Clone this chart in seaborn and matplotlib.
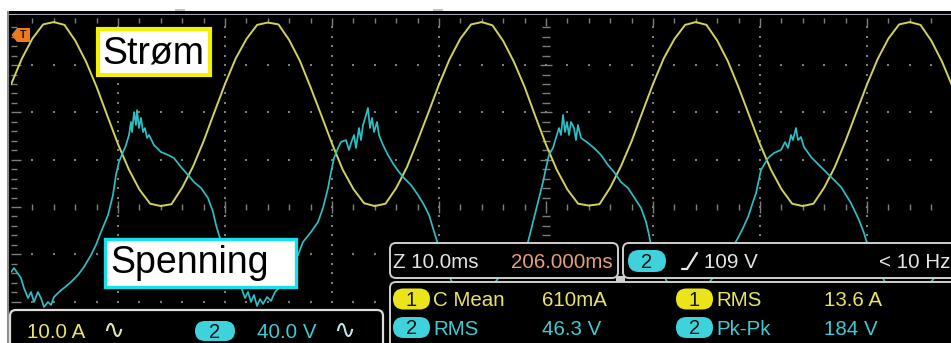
import numpy as np
import pandas as pd
import matplotlib
matplotlib.use("Agg")
import matplotlib.pyplot as plt
from matplotlib.patches import FancyBboxPatch, Rectangle, Polygon
from matplotlib.collections import LineCollection
import seaborn as sns

# ---- acquisition settings ----------------------------------------------------
MS_PER_DIV = 10.0          # horizontal scale
AMP_PER_DIV = 10.0         # channel 1 (current)
VOLT_PER_DIV = 40.0        # channel 2 (voltage)
CH1_POSITION_DIV = 1.91    # channel 1 ground, divisions above screen centre

# ---- channel 1: current (A), one sample per millisecond ------------------------
current_time_ms = np.arange(-50.0, 39.0, 1.0)
current_amp = [
    6.8, 12.2, 16.5, 19.5, 20.0, 19.4, 16.1, 11.7, 6.3, 0.2,
    -5.8, -11.1, -15.4, -18.4, -18.9, -18.5, -15.0, -10.6, -5.2, 0.9,
    6.9, 12.3, 16.4, 19.4, 19.9, 19.5, 16.2, 11.8, 6.2, 0.3,
    -5.7, -11.2, -15.3, -18.3, -18.9, -18.4, -15.1, -10.7, -5.1, 0.8,
    6.8, 12.2, 16.5, 19.5, 20.0, 19.3, 16.0, 11.6, 6.3, 0.1,
    -5.9, -11.2, -15.4, -18.4, -18.8, -18.5, -15.0, -10.5, -5.2, 0.9,
    6.9, 12.3, 16.4, 19.4, 20.0, 19.4, 16.1, 11.7, 6.2, 0.2,
    -5.8, -11.1, -15.3, -18.4, -18.9, -18.4, -15.0, -10.6, -5.1, 0.9,
    6.8, 12.2, 16.5, 19.5, 20.0, 19.4, 16.1, 11.7, 6.3,
]

# ---- channel 2: voltage (V) ------------------------------------------------------
voltage_time_ms = [
    -50.00, -49.72, -49.07, -48.79, -48.41, -48.13, -47.85, -47.48, -47.20, -46.92,
    -46.54, -46.26, -45.98, -45.51, -45.05, -44.39, -43.74, -43.18, -42.52, -42.06,
    -41.59, -40.93, -40.47, -40.19, -39.91, -39.53, -39.25, -38.97, -38.79, -38.69,
    -38.50, -38.32, -38.22, -38.04, -37.85, -37.66, -37.48, -37.29, -37.10, -36.64,
    -35.98, -35.33, -34.77, -34.11, -33.46, -32.90, -32.24, -31.59, -31.12, -30.84,
    -30.56, -29.91, -29.25, -28.50, -28.13, -27.85, -27.57, -27.29, -27.01, -26.73,
    -26.45, -26.07, -25.70, -25.33, -24.86, -24.30, -23.74, -23.18, -22.71, -21.96,
    -21.31, -20.84, -20.37, -20.09, -19.81, -19.44, -19.16, -18.69, -18.41, -18.22,
    -17.94, -17.76, -17.48, -17.29, -17.10, -16.82, -16.64, -16.45, -16.26, -16.07,
    -15.79, -15.61, -15.23, -14.77, -14.21, -13.74, -13.27, -12.62, -11.96, -11.40,
    -10.93, -10.56, -10.28, -9.63, -8.88, -8.13, -7.38, -6.64, -5.89, -4.95,
    -4.02, -3.08, -2.34, -1.68, -1.21, -0.75, -0.28, 0.00, 0.28, 0.65,
    0.93, 1.21, 1.40, 1.59, 1.78, 1.96, 2.15, 2.34, 2.62, 2.80,
    2.99, 3.27, 3.93, 4.49, 5.14, 5.79, 6.36, 7.01, 7.66, 8.22,
    8.88, 9.35, 9.63, 9.81, 10.56, 11.31, 12.15, 12.99, 13.93, 14.86,
    15.79, 16.73, 17.29, 17.94, 18.41, 18.88, 19.25, 19.63, 20.09, 20.75,
    21.31, 21.96, 22.34, 22.62, 22.90, 23.08, 23.36, 23.55, 23.83, 24.11,
    24.77, 25.70, 26.64, 27.57, 28.50, 29.25, 29.72, 29.91, 30.56, 31.31,
    32.24, 33.18, 34.11, 35.05, 35.98, 36.92, 37.94,
]
voltage_volt = [
    -55.0, -51.6, -60.0, -68.5, -77.0, -71.9, -80.3, -71.9, -77.0, -84.6,
    -80.3, -82.9, -76.1, -71.9, -68.5, -63.4, -57.5, -50.7, -40.6, -32.1,
    -21.1, -6.8, 10.1, 27.1, 38.1, 46.5, 52.4, 60.9, 71.9, 63.4,
    80.3, 69.3, 82.0, 66.8, 75.3, 63.4, 66.8, 58.4, 60.9, 52.4,
    46.5, 44.0, 41.4, 33.8, 27.1, 21.1, 16.1, 7.6, -4.2, -15.2,
    -23.7, -40.6, -55.0, -67.7, -77.0, -71.9, -80.3, -74.4, -83.7, -77.8,
    -82.0, -76.1, -79.5, -71.9, -67.7, -60.0, -49.9, -40.6, -29.6, -21.1,
    -12.7, -0.8, 16.1, 29.6, 41.4, 49.9, 55.0, 56.6, 48.2, 54.1,
    60.9, 49.9, 66.8, 56.6, 69.3, 77.8, 83.7, 66.8, 75.3, 63.4,
    71.9, 60.9, 52.4, 44.0, 35.5, 29.6, 24.5, 18.6, 10.1, 1.7,
    -6.8, -17.8, -26.2, -44.8, -61.7, -74.4, -81.2, -78.6, -75.3, -66.0,
    -55.0, -43.1, -36.4, -29.6, -12.7, 4.2, 21.1, 33.0, 44.0, 49.9,
    58.4, 66.8, 60.9, 77.8, 63.4, 71.9, 60.9, 71.9, 66.8, 56.6,
    69.3, 58.4, 54.1, 49.9, 44.0, 35.5, 29.6, 21.1, 16.1, 8.5,
    -0.8, -12.7, -23.7, -32.1, -49.0, -63.4, -76.1, -82.0, -77.0, -68.5,
    -57.5, -44.8, -36.4, -26.2, -17.8, -8.5, 1.7, 11.8, 31.3, 41.4,
    45.7, 48.2, 54.9, 49.9, 60.9, 56.6, 66.8, 56.6, 59.2, 50.7,
    42.3, 33.8, 25.4, 16.9, 3.4, -11.0, -22.0, -27.9, -43.1, -57.5,
    -71.9, -80.3, -78.6, -71.9, -63.4, -53.3, -40.6,
]

# ---- on-screen readouts ------------------------------------------------------------
ch1_scale_label = "10.0 A"
ch2_scale_label = "40.0 V"
timebase_label = "Z 10.0ms"
delay_label = "206.000ms"
trigger_source = "2"
trigger_level_label = "109 V"
trigger_freq_label = "< 10 Hz"
meas_channels = ["1", "1", "2", "2"]
meas_names = ["C Mean", "RMS", "RMS", "Pk-Pk"]
meas_values = ["610mA", "13.6 A", "46.3 V", "184 V"]

# ---- colours -------------------------------------------------------------------
YELLOW_TRACE = "#d2d25c"
CYAN_TRACE = "#2cbfc6"
YELLOW_TEXT = "#e8e466"
CYAN_TEXT = "#3ecbd3"
YELLOW_PILL = "#ece41a"
CYAN_PILL = "#3ed2dc"
GRID = "#7e7e7e"
FRAME = "#cfcfcf"

LABEL_FONT = ["Liberation Sans", "DejaVu Sans"]
SCOPE_FONT = ["Liberation Sans", "DejaVu Sans"]
SCOPE_SIZE = 14.8

sns.set_theme(style="dark")
plt.rcParams["font.family"] = ["Liberation Sans", "DejaVu Sans"]

W, H = 951, 343
fig = plt.figure(figsize=(W / 100, H / 100), dpi=100, facecolor="white")

# screen geometry in pixels
PX_DIV_X, PX_DIV_Y = 107.0, 47.3
LEFT_PX, RIGHT_PX, TOP_PX, BOT_PX = 11.0, 951.0, 17.8, 343.0
T_LEFT = -50.0
T_RIGHT = T_LEFT + (RIGHT_PX - LEFT_PX) / PX_DIV_X * MS_PER_DIV
DIV_TOP = 4.0
DIV_BOTTOM = DIV_TOP - (BOT_PX - TOP_PX) / PX_DIV_Y
rect = [LEFT_PX / W, 1 - BOT_PX / H, (RIGHT_PX - LEFT_PX) / W, (BOT_PX - TOP_PX) / H]

# black display area
fig.add_artist(Rectangle((7 / W, 0), 1, 1 - 11 / H, transform=fig.transFigure,
                         facecolor="black", edgecolor="none", zorder=0))

ax_g = fig.add_axes(rect, zorder=1)
ax_i = fig.add_axes(rect, zorder=2)
ax_v = fig.add_axes(rect, zorder=3)
for a in (ax_g, ax_i, ax_v):
    a.set_facecolor("none")

# ---- graticule -------------------------------------------------------------------
minor_t = np.arange(-48.0, T_RIGHT, 2.0)
major_t = [-40, -30, -20, -10, 10, 20, 30]
major_d = [-2, -1, 1, 2, 3]
minor_d = np.round(np.arange(-2.8, 4.0, 0.2), 2)

gx, gy = np.meshgrid(minor_t, major_d)
ax_g.scatter(gx.ravel(), gy.ravel(), s=2.2, marker="s", color=GRID, linewidths=0)
gx, gy = np.meshgrid(major_t, minor_d)
ax_g.scatter(gx.ravel(), gy.ravel(), s=2.2, marker="s", color=GRID, linewidths=0)

segs = []
for t in minor_t:
    big = abs(t % 10) < 1e-6
    h = 0.13 if big else 0.07
    segs.append([(t, -h), (t, h)])                                        # centre row ticks
    segs.append([(t, DIV_TOP), (t, DIV_TOP - (0.17 if big else 0.1))])    # top ruler
for d in minor_d:
    big = abs(d - round(d)) < 1e-6
    w = 0.55 if big else 0.35
    if abs(d) > 1e-6:
        segs.append([(-w, d), (w, d)])                                    # centre column ticks
    segs.append([(T_LEFT, d), (T_LEFT + (0.9 if big else 0.6), d)])       # left ruler
ax_g.add_collection(LineCollection(segs, colors=GRID, linewidths=1.0))

# ---- traces ------------------------------------------------------------------------
cur = pd.DataFrame({"t": current_time_ms, "i": current_amp})
vol = pd.DataFrame({"t": voltage_time_ms, "v": voltage_volt})
sns.lineplot(data=cur, x="t", y="i", ax=ax_i, color=YELLOW_TRACE, linewidth=1.4,
             estimator=None, sort=False)
sns.lineplot(data=vol, x="t", y="v", ax=ax_v, color=CYAN_TRACE, linewidth=1.25,
             estimator=None, sort=False)

ax_g.set_ylim(DIV_BOTTOM, DIV_TOP)
ax_i.set_ylim((DIV_BOTTOM - CH1_POSITION_DIV) * AMP_PER_DIV, (DIV_TOP - CH1_POSITION_DIV) * AMP_PER_DIV)
ax_v.set_ylim(DIV_BOTTOM * VOLT_PER_DIV, DIV_TOP * VOLT_PER_DIV)
for a in (ax_g, ax_i, ax_v):
    a.set_xlim(T_LEFT, T_RIGHT)
    a.set_axis_off()

# ---- pixel overlay for frame, labels and readouts ---------------------------------------
ov = fig.add_axes([0, 0, 1, 1], zorder=10)
ov.set_xlim(0, W)
ov.set_ylim(H, 0)
ov.set_axis_off()

# screen frame
ov.add_patch(Rectangle((9, 13.6), W, 1.6, facecolor="#a9a9b4", edgecolor="none"))
ov.add_patch(Rectangle((7.2, 11), 1.8, H, facecolor="#8c8c8c", edgecolor="none"))
for x0 in (175, 433):
    ov.add_patch(Rectangle((x0, 9), 10, 2.2, facecolor="#c4c4c4", edgecolor="none"))

# trigger marker
ov.add_patch(Polygon([(11.5, 35), (17, 28), (30, 28), (30, 42), (17, 42)],
                     closed=True, facecolor="#ec7a22", edgecolor="none"))
ov.text(23.5, 35.5, "T", color="#2a1400", fontsize=7.5, fontweight="bold",
        ha="center", va="center", family=LABEL_FONT)

# trace labels
ov.add_patch(Rectangle((98, 29), 112, 46, facecolor="white", edgecolor="#f4f000", linewidth=3.0))
ov.text(102, 63, "Strøm", fontsize=27, color="black", ha="left", va="baseline", family=LABEL_FONT)
ov.add_patch(Rectangle((104.5, 238.5), 191, 48, facecolor="white", edgecolor="#14e2ea", linewidth=2.4))
ov.text(110, 273, "Spenning", fontsize=27, color="black", ha="left", va="baseline", family=LABEL_FONT)


def panel(x0, y0, x1, y1, ec=FRAME, lw=1.4, r=6):
    ov.add_patch(FancyBboxPatch((x0, y0), x1 - x0, y1 - y0,
                                boxstyle=f"round,pad=0,rounding_size={r}",
                                facecolor="black", edgecolor=ec, linewidth=lw))


def pill(x0, y0, x1, y1, color, label):
    ov.add_patch(FancyBboxPatch((x0, y0), x1 - x0, y1 - y0,
                                boxstyle=f"round,pad=0,rounding_size={(y1 - y0) / 2}",
                                facecolor=color, edgecolor="none"))
    ov.text((x0 + x1) / 2, (y0 + y1) / 2 + 7, label, fontsize=14.5, color="#101010",
            ha="center", va="baseline", family=SCOPE_FONT)


def readout(x, y, s, color, size=SCOPE_SIZE):
    ov.text(x, y, s, fontsize=size, color=color, ha="left", va="baseline", family=SCOPE_FONT)


# channel scale bar
panel(10, 310, 383, 372, ec="#dedede", lw=1.6)
readout(27, 338, ch1_scale_label, YELLOW_TEXT)
ov.text(102, 338, "∿", fontsize=19, color="#e6e6b0", ha="left", va="baseline", family=["DejaVu Sans"])
pill(195, 321, 235, 341, CYAN_PILL, "2")
readout(257, 338, ch2_scale_label, CYAN_TEXT)
ov.text(333, 338, "∿", fontsize=19, color="#bfe8ea", ha="left", va="baseline", family=["DejaVu Sans"])

# timebase / trigger
panel(390, 243, 618, 278)
readout(393, 268.5, timebase_label, "#e6e6e6")
readout(511, 268.5, delay_label, "#e4a07a")
ov.add_patch(Rectangle((616, 276), 9, 6, facecolor=FRAME, edgecolor="none"))
panel(623, 243, 975, 278)
pill(628, 250, 666, 272, CYAN_PILL, trigger_source)
ov.plot([682, 687, 697], [269, 269, 253], color="#e6e6e6", linewidth=1.6)
readout(704, 268.5, trigger_level_label, "#e6e6e6")
readout(879, 268.5, trigger_freq_label, "#e6e6e6")

# measurements: channel 1 readings on the first row, channel 2 on the second
panel(390, 282, 975, 380)
rows = [306.5, 335]
cols = [(393, 433, 542), (676, 716, 824)]
for k, (ch, name, val) in enumerate(zip(meas_channels, meas_names, meas_values)):
    r, c = divmod(k, 2)
    col = cols[c]
    y = rows[r]
    txt = YELLOW_TEXT if ch == "1" else CYAN_TEXT
    pc = YELLOW_PILL if ch == "1" else CYAN_PILL
    pill(col[0], y - 18, col[0] + 37, y + 3, pc, ch)
    readout(col[1], y, name, txt)
    readout(col[2], y, val, txt)

fig.savefig("out.png", dpi=100, facecolor="white")
